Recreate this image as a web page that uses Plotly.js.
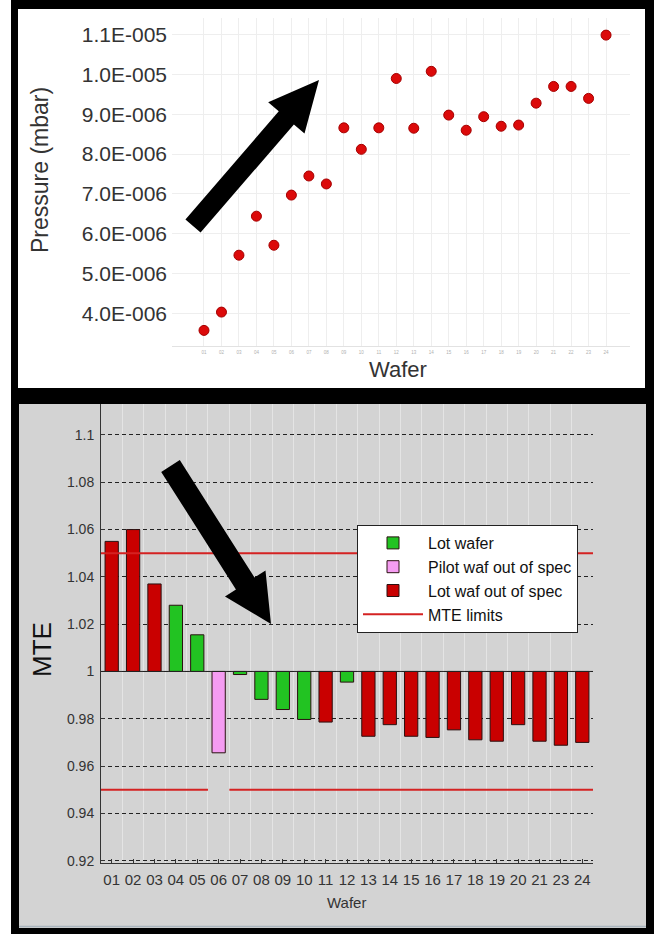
<!DOCTYPE html>
<html>
<head>
<meta charset="utf-8">
<script src="https://cdn.plot.ly/plotly-3.0.1.min.js"></script>
<style>
html,body{margin:0;padding:0;background:#fff;overflow:hidden}
#chart{width:654px;height:934px}
</style>
</head>
<body>
<div id="chart"></div>
<script>
// ---------- Top chart data: chamber pressure per wafer ----------
const pressureWafers = [1,2,3,4,5,6,7,8,9,10,11,12,13,14,15,16,17,18,19,20,21,22,23,24];
const pressureLabels = ["01","02","03","04","05","06","07","08","09","10","11","12","13","14","15","16","17","18","19","20","21","22","23","24"];
const pressureValues = [3.57e-6,4.03e-6,5.46e-6,6.44e-6,5.71e-6,6.97e-6,7.45e-6,7.25e-6,8.66e-6,8.12e-6,8.66e-6,9.90e-6,8.65e-6,1.008e-5,8.98e-6,8.60e-6,8.94e-6,8.70e-6,8.73e-6,9.28e-6,9.70e-6,9.70e-6,9.40e-6,1.099e-5];
const pressureTickVals = [4e-6,5e-6,6e-6,7e-6,8e-6,9e-6,1e-5,1.1e-5];
const pressureTickText = ["4.0E-006","5.0E-006","6.0E-006","7.0E-006","8.0E-006","9.0E-006","1.0E-005","1.1E-005"];

// ---------- Bottom chart data: MTE per wafer ----------
const mteWafers = ["01","02","03","04","05","06","07","08","09","10","11","12","13","14","15","16","17","18","19","20","21","23","24"];
const mteValues = [1.055,1.060,1.037,1.028,1.0155,0.9656,0.9987,0.9882,0.9839,0.9797,0.9786,0.9955,0.9726,0.9775,0.9726,0.9721,0.9753,0.9711,0.9705,0.9775,0.9705,0.9688,0.9700];
const mteStatus = ["bad","bad","bad","lot","lot","pilot","lot","lot","lot","lot","bad","lot","bad","bad","bad","bad","bad","bad","bad","bad","bad","bad","bad"];
const mteUpperLimit = [1.05,1.05,1.05,1.05,1.05,1.05,1.05,1.05,1.05,1.05,1.05,1.05,1.05,1.05,1.05,1.05,1.05,1.05,1.05,1.05,1.05,1.05,1.05];
const mteLowerLimit = [0.95,0.95,0.95,0.95,0.95,null,0.95,0.95,0.95,0.95,0.95,0.95,0.95,0.95,0.95,0.95,0.95,0.95,0.95,0.95,0.95,0.95,0.95];
const mteBaseline = 1;
const mteTickVals = [0.92,0.94,0.96,0.98,1,1.02,1.04,1.06,1.08,1.1];
const mteTickText = ["0.92","0.94","0.96","0.98","1","1.02","1.04","1.06","1.08","1.1"];
const statusNames = {lot:"Lot wafer", pilot:"Pilot waf out of spec", bad:"Lot waf out of spec"};
const statusColors = {lot:"#22c322", pilot:"#f59cf2", bad:"#c90000"};

// ---------- helpers (pixel -> paper for decorations) ----------
const W = 654, H = 934;
const px = x => x / W;
const py = y => 1 - y / H;
const FONT = "Liberation Sans, Arial, Helvetica, sans-serif";

function rect(x0, y0, x1, y1, color, layer) {
  return {type:"rect", xref:"paper", yref:"paper", x0:px(x0), x1:px(x1), y0:py(y1), y1:py(y0),
          fillcolor:color, line:{width:0}, layer:layer || "below"};
}
function arrow(tail, tip, hs, hl, hh) {
  const dx = tip[0]-tail[0], dy = tip[1]-tail[1];
  const L = Math.hypot(dx, dy), ux = dx/L, uy = dy/L, nx = -uy, ny = ux;
  const bx = tip[0]-hl*ux, by = tip[1]-hl*uy;
  const pts = [
    [tail[0]+hs*nx, tail[1]+hs*ny],[bx+hs*nx, by+hs*ny],[bx+hh*nx, by+hh*ny],
    tip,[bx-hh*nx, by-hh*ny],[bx-hs*nx, by-hs*ny],[tail[0]-hs*nx, tail[1]-hs*ny]];
  const d = "M" + pts.map(p => px(p[0]).toFixed(5)+","+py(p[1]).toFixed(5)).join(" L") + " Z";
  return {type:"path", xref:"paper", yref:"paper", path:d, fillcolor:"#000", line:{width:0}, layer:"above"};
}

// ---------- traces ----------
const traces = [];
traces.push({
  type:"scatter", mode:"markers", xaxis:"x", yaxis:"y", showlegend:false,
  x: pressureWafers, y: pressureValues,
  marker:{size:10, color:"#dc0a0a", line:{color:"#a50000", width:1}}
});

const mtePos = mteWafers.map((w, i) => i + 1);
["lot","pilot","bad"].forEach(st => {
  const idx = mteStatus.map((s, i) => s === st ? i : -1).filter(i => i >= 0);
  traces.push({
    type:"bar", xaxis:"x2", yaxis:"y2", name:statusNames[st],
    x: idx.map(i => mtePos[i]),
    y: idx.map(i => mteValues[i] - mteBaseline),
    base: idx.map(() => mteBaseline),
    width: 0.62,
    marker:{color:statusColors[st], line:{color:"#2a1010", width:1}}
  });
});

// MTE limit lines (step segments per wafer, broken where no limit)
const limX = [], limY = [];
[mteUpperLimit, mteLowerLimit].forEach(lim => {
  lim.forEach((v, i) => {
    if (v === null) { limX.push(null); limY.push(null); }
    else { limX.push(mtePos[i]-0.5, mtePos[i]+0.5); limY.push(v, v); }
  });
  limX.push(null); limY.push(null);
});
traces.push({
  type:"scatter", mode:"lines", xaxis:"x2", yaxis:"y2", name:"MTE limits",
  x: limX, y: limY, connectgaps:false,
  line:{color:"#d42222", width:2}
});

// ---------- layout ----------
const layout = {
  width:W, height:H, margin:{l:0, r:0, t:0, b:0},
  paper_bgcolor:"#ffffff", plot_bgcolor:"#ffffff",
  font:{family:FONT, color:"#333"},
  barmode:"overlay",
  xaxis:{
    domain:[px(172), px(630)], anchor:"y", range:[-0.83, 25.37],
    tickmode:"array", tickvals:pressureWafers, ticktext:pressureLabels,
    tickfont:{size:4.5, color:"#b0b0b0"}, ticks:"", ticklabelstandoff:2,
    showgrid:true, gridcolor:"#eeeeee", zeroline:false,
    showline:true, linecolor:"#e2e2e2", linewidth:1, fixedrange:true
  },
  yaxis:{
    domain:[py(346), py(18)], anchor:"x", range:[3.178e-6, 11.42e-6],
    tickmode:"array", tickvals:pressureTickVals, ticktext:pressureTickText,
    tickfont:{size:21, color:"#333"}, ticks:"", ticklabelstandoff:4,
    showgrid:true, gridcolor:"#eeeeee", zeroline:false, showline:false, fixedrange:true
  },
  xaxis2:{
    domain:[px(101), px(593)], anchor:"y2", range:[0.5, mteWafers.length + 0.5],
    tickmode:"array", tickvals:mtePos, ticktext:mteWafers,
    tickfont:{size:15, color:"#333"}, ticks:"inside", ticklen:4, tickcolor:"#333",
    ticklabelstandoff:3,
    showgrid:false, zeroline:false, showline:true, linecolor:"#333", linewidth:1,
    minor:{tickmode:"array", tickvals:mtePos.map(p => p + 0.5), showgrid:true, gridcolor:"#e4e4e4", gridwidth:1, ticks:""},
    fixedrange:true
  },
  yaxis2:{
    domain:[py(863), py(404)], anchor:"x2", range:[0.919, 1.1131],
    tickmode:"array", tickvals:mteTickVals, ticktext:mteTickText,
    tickfont:{size:14, color:"#333"}, ticks:"inside", ticklen:4, tickcolor:"#333",
    ticklabelstandoff:3,
    showgrid:true, gridcolor:"#222", griddash:"4px,3px", gridwidth:1,
    zeroline:false, showline:true, linecolor:"#333", linewidth:1, fixedrange:true
  },
  legend:{
    x:px(357), y:py(525), xanchor:"left", yanchor:"top",
    bgcolor:"#ffffff", bordercolor:"#222", borderwidth:1,
    font:{family:FONT, size:16, color:"#111"}, itemwidth:60, traceorder:"normal",
    tracegroupgap:0
  },
  shapes:[
    rect(11, 0, 654, 934, "#000000"),
    rect(18, 9, 645, 388, "#ffffff"),
    rect(19, 404, 646, 928, "#d3d3d3"),
    {type:"line", xref:"paper", yref:"paper", x0:px(19), x1:px(646), y0:py(926.5), y1:py(926.5), line:{color:"#a9b4bd", width:1.5}, layer:"below"},
    {type:"line", xref:"x2 domain", yref:"y2", x0:0, x1:1, y0:mteBaseline, y1:mteBaseline, line:{color:"#222", width:1}, layer:"above"},
    arrow([193,226],[319,80],10,50,24),
    arrow([170.5,466],[271,624],11,48,24)
  ],
  annotations:[
    {text:"Pressure (mbar)", xref:"paper", yref:"paper", x:px(40), y:py(170), textangle:-90,
     showarrow:false, xanchor:"center", yanchor:"middle", font:{size:23, color:"#333"}},
    {text:"Wafer", xref:"paper", yref:"paper", x:px(398), y:py(369),
     showarrow:false, xanchor:"center", yanchor:"middle", font:{size:22, color:"#333"}},
    {text:"MTE", xref:"paper", yref:"paper", x:px(42), y:py(650), textangle:-90,
     showarrow:false, xanchor:"center", yanchor:"middle", font:{size:26, color:"#111"}},
    {text:"Wafer", xref:"paper", yref:"paper", x:px(346), y:py(902),
     showarrow:false, xanchor:"center", yanchor:"middle", font:{size:15, color:"#333"}}
  ]
};

Plotly.newPlot("chart", traces, layout, {staticPlot:true, displayModeBar:false});
</script>
</body>
</html>
